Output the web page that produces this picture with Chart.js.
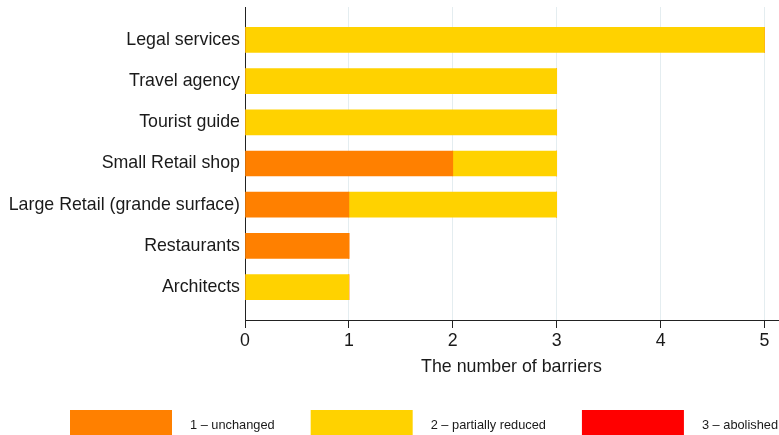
<!DOCTYPE html>
<html>
<head>
<meta charset="utf-8">
<script src="https://cdn.jsdelivr.net/npm/chart.js@4/dist/chart.umd.min.js"></script>
<style>
  html, body { margin: 0; padding: 0; background: #fff; overflow: hidden; }
  #wrap { width: 779px; height: 435px; }
</style>
</head>
<body>
<div id="wrap"><canvas id="chart" width="779" height="435"></canvas></div>
<script>
// data
const categories = ['Legal services', 'Travel agency', 'Tourist guide', 'Small Retail shop',
  'Large Retail (grande surface)', 'Restaurants', 'Architects'];
const unchanged        = [0, 0, 0, 2, 1, 1, 0];
const partiallyReduced = [5, 3, 3, 1, 2, 0, 1];
const abolished        = [0, 0, 0, 0, 0, 0, 0];
const seriesNames = ['1 \u2013 unchanged', '2 \u2013 partially reduced', '3 \u2013 abolished'];
const xTicks = [0, 1, 2, 3, 4, 5];
const xTitle = 'The number of barriers';

const FONT = '"Liberation Sans", Arial, sans-serif';

// legend drawn as wide swatches under the axis
const bottomLegend = {
  id: 'bottomLegend',
  afterDraw(chart){
    const ctx = chart.ctx;
    ctx.save();
    ctx.font = '12.8px ' + FONT;
    ctx.textBaseline = 'middle';
    let x = 70;
    chart.data.datasets.forEach(ds => {
      ctx.fillStyle = ds.backgroundColor;
      ctx.fillRect(x, 410, 102, 26);
      x += 102 + 18;
      ctx.fillStyle = '#1a1a1a';
      ctx.fillText(ds.label, x, 425);
      x += ctx.measureText(ds.label).width + 36;
    });
    ctx.restore();
  }
};

new Chart(document.getElementById('chart'), {
  type: 'bar',
  data: {
    labels: categories,
    datasets: [
      { label: seriesNames[0], data: unchanged, backgroundColor: '#ff8000' },
      { label: seriesNames[1], data: partiallyReduced, backgroundColor: '#ffd200' },
      { label: seriesNames[2], data: abolished, backgroundColor: '#ff0000' }
    ]
  },
  options: {
    indexAxis: 'y',
    responsive: false,
    animation: false,
    barThickness: 25,
    layout: { padding: { left: 0, right: 1, top: 7, bottom: 54 } },
    plugins: { legend: { display: false }, tooltip: { enabled: false } },
    scales: {
      x: {
        type: 'linear',
        stacked: true,
        min: 0,
        max: 5.13,
        afterBuildTicks: s => { s.ticks = xTicks.map(v => ({ value: v })); },
        afterFit: s => { s.height = 61; },
        grid: { color: '#e4edf0', lineWidth: 1, tickColor: '#222', tickLength: 8 },
        border: { color: '#222', width: 1 },
        ticks: { color: '#1a1a1a', padding: 2, font: { family: FONT, size: 17.8 } },
        title: { display: true, text: xTitle, color: '#1a1a1a', padding: { top: 2, bottom: 3 },
                 font: { family: FONT, size: 17.8 } }
      },
      y: {
        stacked: true,
        // a little extra room above the first and below the last bar
        afterBuildTicks: s => { s._startValue -= 0.3; s._valueRange += 0.6; },
        afterFit: s => { s.width = 245; s.paddingTop = 0; s.paddingBottom = 0; },
        grid: { display: false, drawTicks: false },
        border: { display: true, color: '#222', width: 1 },
        ticks: { color: '#1a1a1a', padding: 5, font: { family: FONT, size: 17.8 } }
      }
    }
  },
  plugins: [bottomLegend]
});
</script>
</body>
</html>
